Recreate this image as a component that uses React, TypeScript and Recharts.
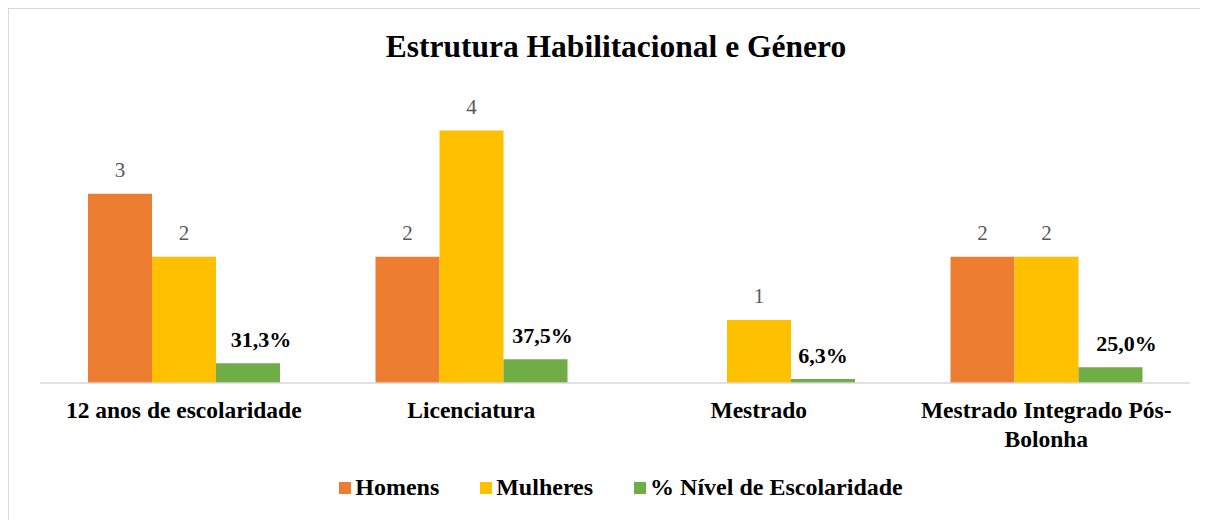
import React from "react";
import { BarChart, Bar, XAxis, YAxis, LabelList } from "recharts";

const categories = [
  "12 anos de escolaridade",
  "Licenciatura",
  "Mestrado",
  "Mestrado Integrado Pós-Bolonha",
];
const homens: (number | null)[] = [3, 2, null, 2];
const mulheres: number[] = [2, 4, 1, 2];
const nivel: number[] = [0.313, 0.375, 0.063, 0.25];

const seriesNames = ["Homens", "Mulheres", "% Nível de Escolaridade"];
const colors = ["#ED7D31", "#FFC000", "#70AD47"];

// horizontal nudges of the percentage labels (as placed in the original)
const pctLabelNudge = [13, 7, 0, 16];

const data = categories.map((c, i) => ({
  name: c,
  homens: homens[i],
  mulheres: mulheres[i],
  nivel: nivel[i],
}));

const FONT = "Liberation Serif, DejaVu Serif, serif";

const splitLabel = (s: string): string[] => {
  if (s.length > 24) {
    const idx = s.lastIndexOf("-");
    if (idx > 0) return [s.slice(0, idx + 1), s.slice(idx + 1)];
  }
  return [s];
};

const CategoryTick = (props: any) => {
  const { x, y, payload } = props;
  const lines = splitLabel(String(payload.value));
  return (
    <g transform={`translate(${x},${y})`}>
      {lines.map((l, i) => (
        <text
          key={i}
          x={0}
          y={27 + i * 29}
          textAnchor="middle"
          fontFamily={FONT}
          fontWeight="bold"
          fontSize={23.5}
          fill="#000"
        >
          {l}
        </text>
      ))}
    </g>
  );
};

const pct = (v: any) =>
  v == null ? "" : (Number(v) * 100).toFixed(1).replace(".", ",") + "%";

const PctLabel = (props: any) => {
  const { x, y, width, value, index } = props;
  if (value == null) return null;
  return (
    <text
      x={x + width / 2 + (pctLabelNudge[index] || 0)}
      y={y - 16}
      textAnchor="middle"
      fontFamily={FONT}
      fontWeight="bold"
      fontSize={22}
      fill="#000"
    >
      {pct(value)}
    </text>
  );
};

export default function App() {
  return (
    <div
      style={{
        position: "relative",
        width: 1200,
        height: 512,
        borderTop: "1.5px solid #d9d9d9",
        borderLeft: "1.5px solid #d9d9d9",
        boxSizing: "border-box",
        background: "#fff",
      }}
    >
      <div
        style={{
          position: "absolute",
          top: 20,
          left: 0,
          width: 1214,
          textAlign: "center",
          fontFamily: FONT,
          fontWeight: "bold",
          fontSize: 31.5,
          color: "#000",
        }}
      >
        Estrutura Habilitacional e Género
      </div>
      <div style={{ position: "absolute", top: 0, left: -1.5 }}>
        <BarChart
          width={1200}
          height={512}
          data={data}
          margin={{ top: 90, right: 18, left: 32, bottom: 78 }}
          barGap={0}
          barCategoryGap={0}
        >
          <XAxis
            dataKey="name"
            axisLine={{ stroke: "#d9d9d9", strokeWidth: 1.5 }}
            tickLine={false}
            tick={<CategoryTick />}
            interval={0}
            height={60}
          />
          <YAxis hide domain={[0, 4.5]} />
          <Bar dataKey="homens" fill={colors[0]} barSize={64} isAnimationActive={false}>
            <LabelList
              dataKey="homens"
              position="top"
              offset={17}
              fill="#595959"
              fontFamily={FONT}
              fontSize={21}
            />
          </Bar>
          <Bar dataKey="mulheres" fill={colors[1]} barSize={64} isAnimationActive={false}>
            <LabelList
              dataKey="mulheres"
              position="top"
              offset={17}
              fill="#595959"
              fontFamily={FONT}
              fontSize={21}
            />
          </Bar>
          <Bar dataKey="nivel" fill={colors[2]} barSize={64} isAnimationActive={false}>
            <LabelList dataKey="nivel" content={<PctLabel />} />
          </Bar>
        </BarChart>
      </div>
      <div
        style={{
          position: "absolute",
          top: 465,
          left: 0,
          width: 1224,
          display: "flex",
          justifyContent: "center",
          fontFamily: FONT,
          fontWeight: "bold",
          fontSize: 24,
          color: "#000",
        }}
      >
        {seriesNames.map((n, i) => (
          <div
            key={n}
            style={{ display: "flex", alignItems: "center", marginRight: i < 2 ? 41 : 0 }}
          >
            <span
              style={{
                width: 12,
                height: 12,
                background: colors[i],
                display: "inline-block",
                marginRight: 4,
              }}
            />
            <span>{n}</span>
          </div>
        ))}
      </div>
    </div>
  );
}
